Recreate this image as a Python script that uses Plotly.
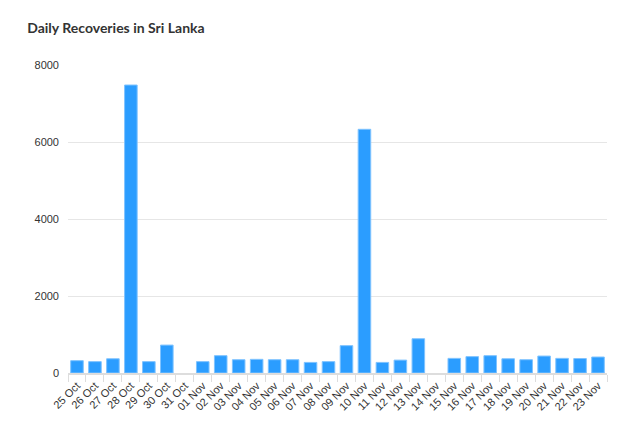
import plotly.graph_objects as go

dates = ["25 Oct", "26 Oct", "27 Oct", "28 Oct", "29 Oct", "30 Oct", "31 Oct",
         "01 Nov", "02 Nov", "03 Nov", "04 Nov", "05 Nov", "06 Nov", "07 Nov",
         "08 Nov", "09 Nov", "10 Nov", "11 Nov", "12 Nov", "13 Nov", "14 Nov",
         "15 Nov", "16 Nov", "17 Nov", "18 Nov", "19 Nov", "20 Nov", "21 Nov",
         "22 Nov", "23 Nov"]
recoveries = [320, 295, 370, 7480, 295, 725, 0,
              295, 450, 345, 355, 345, 345, 275,
              295, 710, 6330, 275, 335, 890, 0,
              380, 425, 450, 370, 345, 440, 380,
              375, 415]
y_ticks = [0, 2000, 4000, 6000, 8000]

line_widths = [1 if v > 0 else 0 for v in recoveries]

fig = go.Figure(go.Bar(
    x=dates, y=recoveries,
    marker=dict(color="#2b9dff", line=dict(color="#7fc3ff", width=line_widths)),
))

fig.update_layout(
    width=633, height=427,
    margin=dict(l=68, r=26, t=65, b=54),
    paper_bgcolor="white", plot_bgcolor="white",
    bargap=0.3,
    showlegend=False,
    title=dict(text="Daily Recoveries in Sri Lanka", x=0.043, xanchor="left",
               y=0.935, yanchor="middle",
               font=dict(family="Lato", size=14, color="#333333", weight="bold")),
    font=dict(family="Liberation Sans, Arial", size=11, color="#333333"),
)
fig.update_xaxes(
    type="category", tickangle=-45, tickson="boundaries",
    ticks="outside", ticklen=7, tickcolor="#dddddd", tickwidth=1,
    showline=True, linecolor="#dddddd", linewidth=2,
    showgrid=False, automargin=False,
    tickfont=dict(size=11, color="#333333"),
)
fig.update_yaxes(
    range=[0, 8000], tickvals=y_ticks, showgrid=True, gridcolor="#e6e6e6",
    gridwidth=1, zeroline=False, showline=False, ticks="",
    ticklabelstandoff=8, automargin=False,
    tickfont=dict(size=11, color="#333333"),
)

fig.write_html("out.html")
